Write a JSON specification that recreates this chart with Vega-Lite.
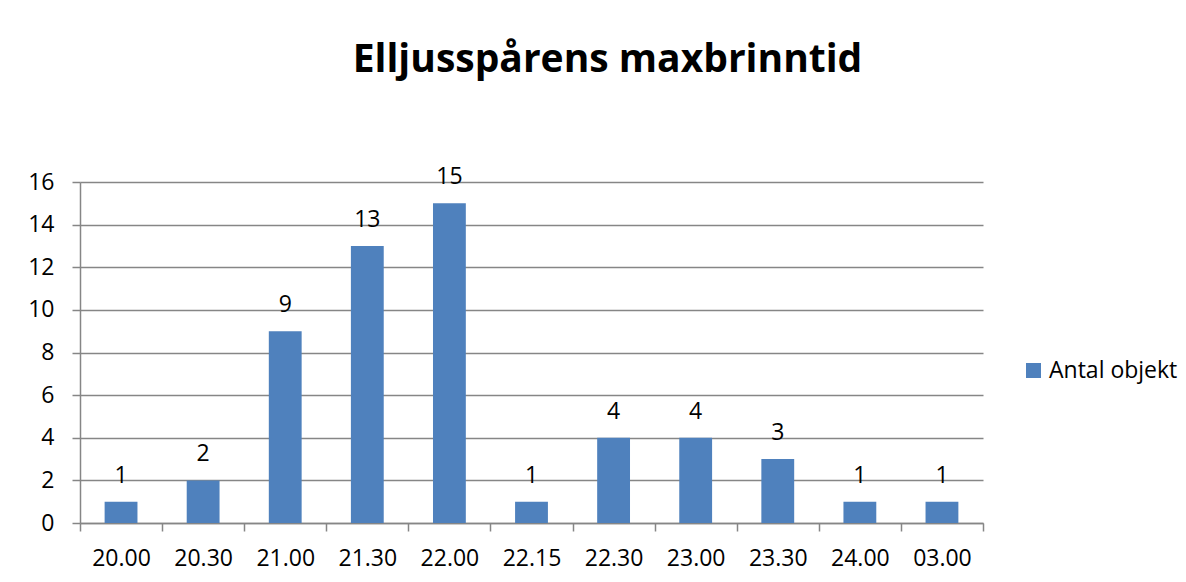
{
  "$schema": "https://vega.github.io/schema/vega-lite/v6.json",
  "width": 903,
  "height": 341,
  "autosize": {"type": "none"},
  "padding": {"left": 80, "top": 182, "right": 203, "bottom": 59},
  "background": "white",
  "title": {
    "text": "Elljusspårens maxbrinntid",
    "font": "Open Sans",
    "fontSize": 39,
    "fontWeight": "bold",
    "color": "black",
    "anchor": "middle",
    "dx": 76,
    "offset": 55,
    "baseline": "alphabetic"
  },
  "data": {
    "values": [
      {"tid": "20.00", "antal": 1, "serie": "Antal objekt"},
      {"tid": "20.30", "antal": 2, "serie": "Antal objekt"},
      {"tid": "21.00", "antal": 9, "serie": "Antal objekt"},
      {"tid": "21.30", "antal": 13, "serie": "Antal objekt"},
      {"tid": "22.00", "antal": 15, "serie": "Antal objekt"},
      {"tid": "22.15", "antal": 1, "serie": "Antal objekt"},
      {"tid": "22.30", "antal": 4, "serie": "Antal objekt"},
      {"tid": "23.00", "antal": 4, "serie": "Antal objekt"},
      {"tid": "23.30", "antal": 3, "serie": "Antal objekt"},
      {"tid": "24.00", "antal": 1, "serie": "Antal objekt"},
      {"tid": "03.00", "antal": 1, "serie": "Antal objekt"}
    ]
  },
  "encoding": {
    "x": {
      "field": "tid",
      "type": "nominal",
      "sort": null,
      "title": null,
      "scale": {"paddingInner": 0, "paddingOuter": 0},
      "axis": {
        "labelAngle": 0,
        "labelFont": "Open Sans",
        "labelFontSize": 23,
        "labelColor": "black",
        "labelPadding": 16,
        "tickBand": "extent",
        "tickSize": 8,
        "tickColor": "#868686",
        "domainColor": "#868686",
        "tickWidth": 1.5,
        "domainWidth": 1.5
      }
    },
    "y": {
      "field": "antal",
      "type": "quantitative",
      "title": null,
      "scale": {"domain": [0, 16]},
      "axis": {
        "values": [0, 2, 4, 6, 8, 10, 12, 14, 16],
        "labelFont": "Open Sans",
        "labelFontSize": 23,
        "labelColor": "black",
        "labelPadding": 18,
        "tickSize": 8,
        "tickColor": "#868686",
        "domainColor": "#868686",
        "gridColor": "#868686",
        "tickWidth": 1.5,
        "domainWidth": 1.5,
        "gridWidth": 1.5
      }
    }
  },
  "layer": [
    {
      "mark": {"type": "bar", "width": {"band": 0.4}},
      "encoding": {
        "color": {
          "field": "serie",
          "type": "nominal",
          "scale": {"range": ["#4F81BD"]},
          "legend": {
            "title": null,
            "orient": "none",
            "legendX": 942,
            "legendY": 177,
            "padding": 0,
            "symbolType": "square",
            "symbolSize": 225,
            "symbolStrokeWidth": 0,
            "labelFont": "Open Sans",
            "labelFontSize": 23,
            "labelColor": "black",
            "labelOffset": 4
          }
        }
      }
    },
    {
      "mark": {
        "type": "text",
        "font": "Open Sans",
        "fontSize": 23,
        "color": "black",
        "baseline": "alphabetic",
        "dy": -19
      },
      "encoding": {"text": {"field": "antal", "type": "quantitative"}}
    }
  ],
  "config": {"view": {"stroke": null}}
}
